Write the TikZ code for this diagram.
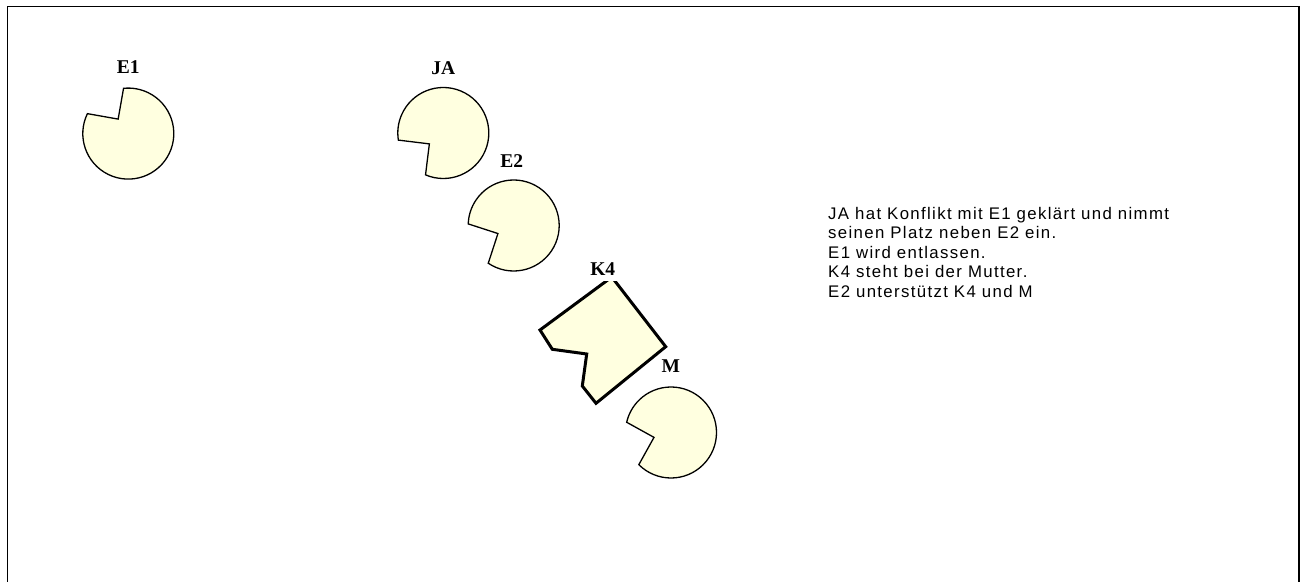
\documentclass[tikz,border=0pt]{standalone}
\usepackage{fontspec}
\setmainfont{Liberation Serif}
\newfontfamily\notefont[LetterSpace=8]{Liberation Sans}
\usetikzlibrary{calc}
\definecolor{shapefill}{RGB}{255,255,224}
\tikzset{
  pacstyle/.style={draw=black, line width=1.3pt, fill=shapefill},
  kidstyle/.style={draw=black, line width=3pt, fill=shapefill, line join=miter},
  lbl/.style={font=\bfseries\fontsize{19.5}{21}\selectfont, inner sep=2.5pt, fill=white},
  note/.style={font=\notefont\fontsize{16.8}{19.5}\selectfont, align=left, anchor=north west, inner sep=0pt},
  frame/.style={draw=black, line width=1.5pt}
}
% pacman-like shape: centre, bisector angle of the notch
\newcommand\pacshape[2]{%
  \draw[pacstyle] ($(#1)+(#2+29:45.5)$) arc[start angle=#2+29, end angle=#2+331, radius=45.5]
    -- ($(#1)+(#2:17.7)$) -- cycle;}
\begin{document}
\begin{tikzpicture}[x=1pt,y=1pt]
\useasboundingbox (0,0) rectangle (1305,581);
\draw[frame] (7.5,-5) -- (7.5,574.5) -- (1299,574.5) -- (1299,-5);

\coordinate (cE1) at (128.3,447.4);
\coordinate (cJA) at (443.3,448);
\coordinate (cE2) at (513.7,355.5);
\coordinate (cM)  at (671,148.5);

\pacshape{cE1}{125}
\pacshape{cJA}{218}
\pacshape{cE2}{207}
\pacshape{cM}{196}

\draw[kidstyle] (611.8,304) -- (665.7,234.3) -- (596,177.7) -- (582.3,195)
  -- (586.7,227) -- (552.3,231.7) -- (540,251) -- cycle;

\node[lbl] (lE1) at (128.3,514.3) {E1};
\node[lbl] (lJA) at (443.3,512.7) {JA};
\node[lbl] (lE2) at (511.7,420.3) {E2};
\node[lbl, inner ysep=5.5pt] (lK4) at (602.7,311.7) {K4};
\node[lbl] (lM)  at (670.7,215) {M};

\node[note] (txt) at (828,374) {JA hat Konflikt mit E1 geklärt und nimmt\\
seinen Platz neben E2 ein.\\
E1 wird entlassen.\\
K4 steht bei der Mutter.\\
E2 unterstützt K4 und M};
\end{tikzpicture}
\end{document}
